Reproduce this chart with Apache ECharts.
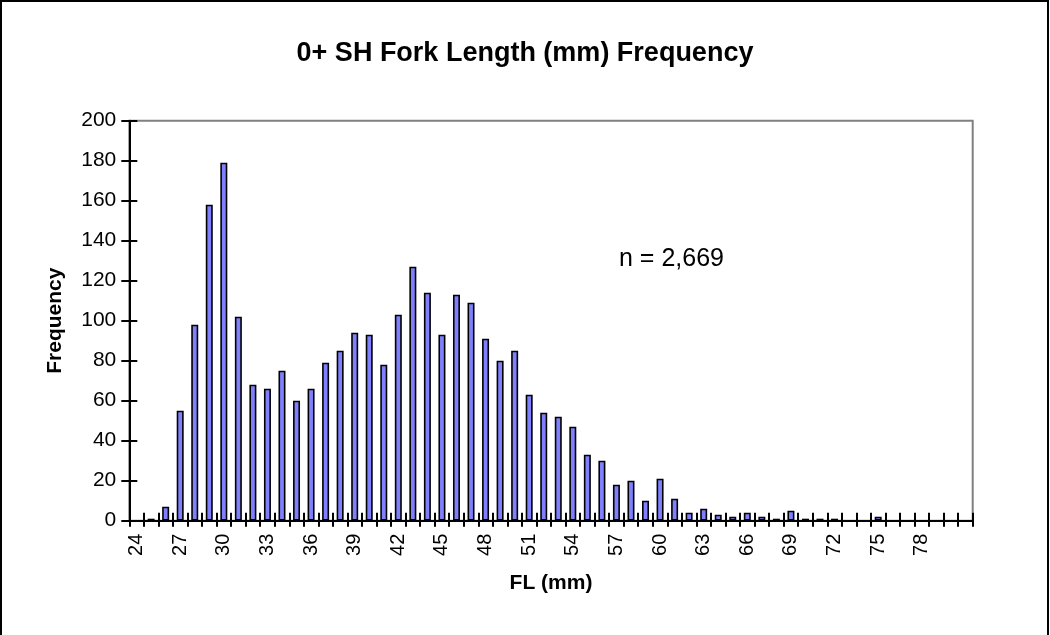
<!DOCTYPE html>
<html>
<head>
<meta charset="utf-8">
<script src="https://cdn.jsdelivr.net/npm/echarts@6/dist/echarts.min.js"></script>
<style>
html,body{margin:0;padding:0;background:#fff;}
#chart{width:1050px;height:635px;}
</style>
</head>
<body>
<div id="chart"></div>
<script>
var categories = ['24','25','26','27','28','29','30','31','32','33','34','35','36','37','38','39','40','41','42','43','44','45','46','47','48','49','50','51','52','53','54','55','56','57','58','59','60','61','62','63','64','65','66','67','68','69','70','71','72','73','74','75','76','77','78','79','80','81'];
var frequency = [0,1,7,55,98,158,179,102,68,66,75,60,66,79,85,94,93,78,103,127,114,93,113,109,91,80,85,63,54,52,47,33,30,18,20,10,21,11,4,6,3,2,4,2,1,5,1,1,1,0,0,2,0,0,0,0,0,0];
var xTickLabels = ['24','27','30','33','36','39','42','45','48','51','54','57','60','63','66','69','72','75','78'];
var yTicks = [0,20,40,60,80,100,120,140,160,180,200];

var FONT = '"Liberation Sans", Arial, sans-serif';
var chart = echarts.init(document.getElementById('chart'));
chart.setOption({
  backgroundColor: '#ffffff',
  animation: false,
  title: {
    text: '0+ SH Fork Length (mm) Frequency',
    left: 'center',
    top: 35,
    textStyle: {fontFamily: FONT, fontSize: 27, fontWeight: 'bold', color: '#000'}
  },
  graphic: [
    {type: 'rect', shape: {x: 1, y: 1, width: 1047, height: 660}, style: {fill: 'none', stroke: '#000', lineWidth: 2}, silent: true},
    {type: 'text', left: 619, top: 247, style: {text: 'n = 2,669', font: '25px "Liberation Sans", Arial, sans-serif', fill: '#000'}}
  ],
  grid: {left: 129.3, right: 77.3, top: 120.7, bottom: 114.3, show: true, borderColor: '#808080', borderWidth: 2, backgroundColor: '#fff'},
  xAxis: [
    {
      type: 'category', data: categories, position: 'bottom',
      name: 'FL (mm)', nameLocation: 'middle', nameGap: 52,
      nameTextStyle: {fontFamily: FONT, fontSize: 21, fontWeight: 'bold', color: '#000'},
      axisLine: {lineStyle: {color: '#000', width: 2}},
      axisTick: {show: true, interval: 0, length: 6, lineStyle: {color: '#000', width: 2}},
      axisLabel: {
        interval: function (i, v) { return xTickLabels.indexOf(v) >= 0; },
        rotate: 90, margin: 13, fontFamily: FONT, fontSize: 20, color: '#000'
      },
      splitLine: {show: false}
    },
    {
      type: 'category', data: categories, position: 'bottom',
      axisLine: {show: false},
      axisTick: {show: true, inside: true, interval: 0, length: 8, lineStyle: {color: '#000', width: 2}},
      axisLabel: {show: false},
      splitLine: {show: false}
    }
  ],
  yAxis: [
    {
      type: 'value', min: 0, max: 200, interval: 20, position: 'left',
      name: 'Frequency', nameLocation: 'middle', nameGap: 64,
      nameTextStyle: {fontFamily: FONT, fontSize: 21, fontWeight: 'bold', color: '#000'},
      axisLine: {show: true, lineStyle: {color: '#000', width: 2}},
      axisTick: {show: true, length: 8, lineStyle: {color: '#000', width: 2}},
      axisLabel: {margin: 13, fontFamily: FONT, fontSize: 21, color: '#000',
        formatter: function (v) { return yTicks.indexOf(v) >= 0 ? String(v) : ''; }},
      splitLine: {show: false}
    },
    {
      type: 'value', min: 0, max: 200, interval: 20, position: 'left', offset: 0,
      axisLine: {show: false},
      axisTick: {show: true, inside: true, length: 8, lineStyle: {color: '#000', width: 2}},
      axisLabel: {show: false},
      splitLine: {show: false}
    }
  ],
  series: [{
    type: 'bar', xAxisIndex: 0, yAxisIndex: 0,
    data: frequency,
    barWidth: 7,
    itemStyle: {color: '#8080FF', borderColor: '#000', borderWidth: 1.6}
  }]
});
</script>
</body>
</html>
